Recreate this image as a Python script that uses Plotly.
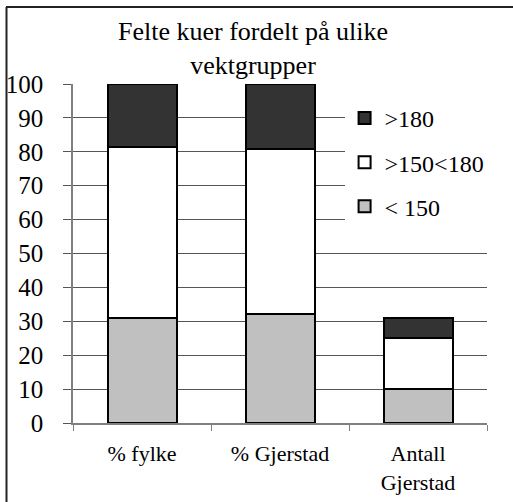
import plotly.graph_objects as go

categories = ["% fylke", "% Gjerstad", "Antall<br>Gjerstad"]
under_150 = [31.0, 32.3, 10]
mid_150_180 = [50.5, 48.4, 15]
over_180 = [18.5, 19.4, 6]
series_names = ["< 150", ">150<180", ">180"]
series_colors = ["#c0c0c0", "#ffffff", "#333333"]
legend_ranks = [3, 2, 1]
y_ticks = [0, 10, 20, 30, 40, 50, 60, 70, 80, 90, 100]
title_text = "Felte kuer fordelt på ulike<br>vektgrupper"

FONT = "Liberation Serif"

fig = go.Figure()
for name, vals, col, rk in zip(series_names, [under_150, mid_150_180, over_180], series_colors, legend_ranks):
    fig.add_trace(go.Bar(
        x=categories, y=vals, name=name, legendgroup=name, legendrank=rk,
        marker=dict(color=col, line=dict(color="black", width=2)),
    ))

fig.update_layout(
    width=513, height=502,
    barmode="stack", bargap=0.5,
    plot_bgcolor="white", paper_bgcolor="white",
    margin=dict(l=73, r=26, t=84, b=79),
    font=dict(family=FONT, color="black", size=20),
    title=dict(text=title_text, x=253/513, xanchor="center", xref="container",
               y=1 - 40/502, yanchor="top", yref="container",
               font=dict(family=FONT, size=26, color="black")),
    showlegend=True,
    legend=dict(x=0.656, xanchor="left", y=0.965, yanchor="top",
                traceorder="grouped", tracegroupgap=10,
                bgcolor="white", borderwidth=0,
                font=dict(family=FONT, size=24, color="black")),
    xaxis=dict(showline=True, linecolor="#808080", linewidth=1.5,
               ticks="outside", tickson="boundaries", ticklen=6,
               tickcolor="#808080", tickfont=dict(family=FONT, size=22),
               ticklabelstandoff=10, showgrid=False, automargin=False),
    yaxis=dict(range=[0, 100], tickvals=y_ticks, showline=True,
               linecolor="#808080", linewidth=1.5,
               ticks="outside", ticklen=8, tickcolor="#555555",
               showgrid=True, gridcolor="#555555", gridwidth=1,
               ticklabelstandoff=15, automargin=False,
               tickfont=dict(family=FONT, size=25), zeroline=False),
    shapes=[
        dict(type="line", xref="paper", yref="paper",
             x0=(6 - 73) / 414, x1=(513 - 73) / 414,
             y0=(423 - 7) / 339, y1=(423 - 7) / 339,
             line=dict(color="#222222", width=2)),
        dict(type="line", xref="paper", yref="paper",
             x0=(6.5 - 73) / 414, x1=(6.5 - 73) / 414,
             y0=(423 - 7) / 339, y1=(423 - 502) / 339,
             line=dict(color="#222222", width=2)),
    ],
)

fig.write_html("out.html", config={"displayModeBar": False},
               post_script="document.body.style.margin='0';")
